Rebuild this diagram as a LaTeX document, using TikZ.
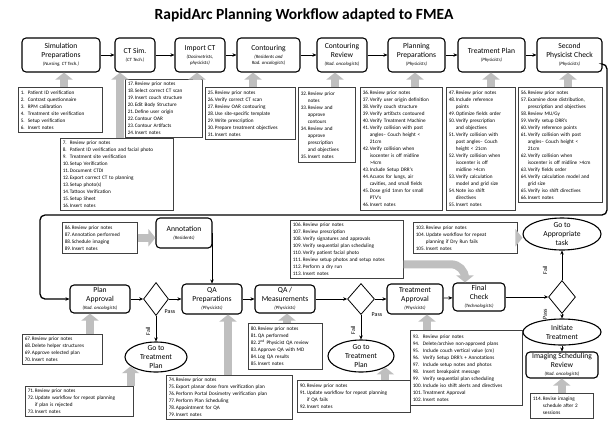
\documentclass[tikz,border=0pt]{standalone}
\usepackage{fontspec}
\setmainfont{Carlito}
\usetikzlibrary{shapes.geometric,arrows.meta}

\newcommand{\notesize}{\fontsize{5.2}{7}\selectfont}
\newcommand{\boxsize}{\fontsize{7.6}{9.2}\selectfont}
\newcommand{\who}[1]{{\fontsize{4.8}{5.6}\selectfont\itshape #1}}
\newcommand{\ent}[3][1.35em]{\makebox[#1][l]{#2.}#3}
\newcommand{\cnt}[1][1.35em]{\hspace*{#1}}

\tikzset{
  proc/.style={draw, line width=1.1pt, rounded corners=4pt, align=center, font=\boxsize, inner sep=1pt},
  notes/.style={draw=black!75, line width=0.6pt, fill=white, align=left, font=\notesize, inner xsep=2.5pt, inner ysep=2pt, anchor=north west},
  oval/.style={draw, ellipse, line width=1.1pt, align=center, font=\boxsize, inner xsep=0pt, inner ysep=-6pt},
  choice/.style={draw, diamond, line width=0.8pt, inner sep=0pt},
  flow/.style={-{Stealth[length=4pt,width=3.5pt]}, line width=0.7pt},
  fat/.style={-{Triangle[length=7pt,width=17pt]}, line width=8pt, draw=black!25},
  tag/.style={font=\fontsize{6}{7}\selectfont}
}

\begin{document}
\begin{tikzpicture}[x=1pt,y=-1pt]
  \fill[white] (0,0) rectangle (612,421);
  \useasboundingbox (0,0) rectangle (612,421);
  \node[font=\fontsize{15.5}{17}\selectfont\bfseries] (title) at (304,15) {RapidArc Planning Workflow adapted to FMEA};

  % top row
  \node[proc, minimum width=78pt, minimum height=34pt] (sim) at (61,55) {Simulation\\Preparations\\[-1pt]\who{(Nursing, CT Tech.)}};
  \node[proc, minimum width=40pt, minimum height=34pt] (ctsim) at (135,55) {CT Sim.\\[-1pt]\who{(CT Tech.)}};
  \node[proc, minimum width=50pt, minimum height=34pt] (importct) at (200,55) {Import CT\\[-1pt]\who{(Dosimetrists,}\\[-3.5pt]\who{physicists)}};
  \node[proc, minimum width=63pt, minimum height=34pt] (contour) at (268.5,55) {Contouring\\[-1pt]\who{(Residents and}\\[-3.5pt]\who{Rad. oncologists)}};
  \node[proc, minimum width=50pt, minimum height=34pt] (contrev) at (342,55) {Contouring\\Review\\[-1pt]\who{(Rad. oncologists)}};
  \node[proc, minimum width=57pt, minimum height=34pt] (planprep) at (416.5,55) {Planning\\Preparations\\[-1pt]\who{(Physicists)}};
  \node[proc, minimum width=67pt, minimum height=34pt] (txplan) at (491.5,55) {Treatment Plan\\[-1pt]\who{(Physicists)}};
  \node[proc, minimum width=65pt, minimum height=34pt] (check2) at (569.5,55) {Second\\Physicist Check\\[-1pt]\who{(Physicists)}};
  \draw[flow] (sim) -- (ctsim);
  \draw[flow] (ctsim) -- (importct);
  \draw[flow] (importct) -- (contour);
  \draw[flow] (contour) -- (contrev);
  \draw[flow] (contrev) -- (planprep);
  \draw[flow] (planprep) -- (txplan);
  \draw[flow] (txplan) -- (check2);

  % notes of the top row
  \node[notes, text width=79pt, minimum height=45pt] (notesA) at (18,87) {\ent{1}{Patient ID verification}\\\ent{2}{Contrast questionnaire}\\\ent{3}{RPM calibration}\\\ent{4}{Treatment site verification}\\\ent{5}{Setup verification}\\\ent{6}{Insert notes}};
  \node[notes, text width=108pt, minimum height=72pt] (notesB) at (60,138) {\ent{7}{Review prior notes}\\\ent{8}{Patient ID verification and facial photo}\\\ent{9}{Treatment site verification}\\\ent{10}{Setup Verification}\\\ent{11}{Document CTDI}\\\ent{12}{Export correct CT to planning}\\\ent{13}{Setup photo(s)}\\\ent{14}{Tattoos Verification}\\\ent{15}{Setup Sheet}\\\ent{16}{Insert notes}};
  \node[notes, text width=72pt, minimum height=58pt] (notesC) at (125,79) {\ent{17}{Review prior notes}\\\ent{18}{Select correct CT scan}\\\ent{19}{Insert couch structure}\\\ent{20}{Edit Body Structure}\\\ent{21}{Define user origin}\\\ent{22}{Contour OAR}\\\ent{23}{Contour Artifacts}\\\ent{24}{Insert notes}};
  \node[notes, text width=85pt, minimum height=52pt] (notesD) at (205,87) {\ent{25}{Review prior notes}\\\ent{26}{Verify correct CT scan}\\\ent{27}{Review OAR contouring}\\\ent{28}{Use site-specific template}\\\ent{29}{Write prescription}\\\ent{30}{Prepare treatment objectives}\\\ent{31}{Insert notes}};
  \node[notes, text width=52pt, minimum height=75pt] (notesE) at (298,87) {\ent{32}{Review prior}\\\cnt notes\\\ent{33}{Review and}\\\cnt approve\\\cnt contours\\\ent{34}{Review and}\\\cnt approve\\\cnt prescription\\\cnt and objectives\\\ent{35}{Insert notes}};
  \node[notes, text width=77pt, minimum height=123pt] (notesF) at (360,87) {\ent{36}{Review prior notes}\\\ent{37}{Verify user origin definition}\\\ent{38}{Verify couch structure}\\\ent{39}{Verify artifacts contoured}\\\ent{40}{Verify Treatment Machine}\\\ent{41}{Verify collision with post}\\\cnt angles-- Couch height <\\\cnt 21cm\\\ent{42}{Verify collision when}\\\cnt isocenter is off midline\\\cnt >4cm\\\ent{43}{Include Setup DRR's}\\\ent{44}{Acuros for lungs, air}\\\cnt cavities, and small fields\\\ent{45}{Dose grid 1mm for small}\\\cnt PTV's\\\ent{46}{Insert notes}};
  \node[notes, text width=64pt, minimum height=123pt] (notesG) at (446,87) {\ent{47}{Review prior notes}\\\ent{48}{Include reference}\\\cnt points\\\ent{49}{Optimize fields order}\\\ent{50}{Verify prescription}\\\cnt and objectives\\\ent{51}{Verify collision with}\\\cnt post angles-- Couch\\\cnt height < 21cm\\\ent{52}{Verify collision when}\\\cnt isocenter is off\\\cnt midline >4cm\\\ent{53}{Verify calculation}\\\cnt model and grid size\\\ent{54}{Note iso shift}\\\cnt directives\\\ent{55}{Insert notes}};
  \node[notes, text width=79pt, minimum height=115pt] (notesH) at (518,87) {\ent{56}{Review prior notes}\\\ent{57}{Examine dose distribution,}\\\cnt prescription and objectives\\\ent{58}{Review MU/Gy}\\\ent{59}{Verify setup DRR's}\\\ent{60}{Verify reference points}\\\ent{61}{Verify collision with post}\\\cnt angles-- Couch height <\\\cnt 21cm\\\ent{62}{Verify collision when}\\\cnt isocenter is off midline >4cm\\\ent{63}{Verify fields order}\\\ent{64}{Verify calculation model and}\\\cnt grid size\\\ent{65}{Verify iso shift directives}\\\ent{66}{Insert notes}};
  \draw[fat] (notesA.north -| 64,0) -- (sim.south -| 64,0);
  \draw[fat] (notesB.north -| 120,0) -- (ctsim.south -| 120,0);
  \draw[fat] (notesC.north -| 197,0) -- (importct.south -| 197,0);
  \draw[fat] (notesD.north -| 253,0) -- (contour.south -| 253,0);
  \draw[fat] (notesE.north -| 335,0) -- (contrev.south -| 335,0);
  \draw[fat] (notesF.north -| 415,0) -- (planprep.south -| 415,0);
  \draw[fat] (notesG.north -| 491,0) -- (txplan.south -| 491,0);
  \draw[fat] (notesH.north -| 568,0) -- (check2.south -| 568,0);

  % middle row
  \node[notes, text width=70pt, minimum height=31pt] (notesI) at (62,222) {\ent{86}{Review prior notes}\\\ent{87}{Annotation performed}\\\ent{88}{Schedule imaging}\\\ent{89}{Insert notes}};
  \node[proc, minimum width=56pt, minimum height=30pt] (annot) at (184,233) {Annotation\\[-1pt]\who{(Residents)}};
  \node[notes, text width=108pt, minimum height=58pt] (notesJ) at (290,220) {\ent[1.95em]{106}{Review prior notes}\\\ent[1.95em]{107}{Review prescription}\\\ent[1.95em]{108}{Verify signatures and approvals}\\\ent[1.95em]{109}{Verify sequential plan scheduling}\\\ent[1.95em]{110}{Verify patient facial photo}\\\ent[1.95em]{111}{Review setup photos and setup notes}\\\ent[1.95em]{112}{Perform a dry run}\\\ent[1.95em]{113}{Insert notes}};
  \node[notes, text width=99pt, minimum height=31pt] (notesK) at (413,222) {\ent[1.95em]{103}{Review prior notes}\\\ent[1.95em]{104}{Update workflow for repeat}\\\cnt[1.95em]planning if Dry Run fails\\\ent[1.95em]{105}{Insert notes}};
  \node[oval, minimum width=78pt, minimum height=32pt] (gotask) at (562,234) {Go to\\Appropriate\\task};
  \draw[fat] (notesI.east) -- (notesI.east -| annot.west);
  \draw[fat] (notesK.east) -- (notesK.east -| gotask.west);

  % bottom row
  \node[proc, minimum width=60pt, minimum height=28pt] (planapp) at (100,299) {Plan\\Approval\\[-1pt]\who{(Rad. oncologists)}};
  \node[choice, minimum width=25pt, minimum height=33pt] (d1) at (156,299) {};
  \node[proc, minimum width=60pt, minimum height=30pt] (qaprep) at (212,299) {QA\\Preparations\\[-1pt]\who{(Physicists)}};
  \node[proc, minimum width=60pt, minimum height=28pt] (qameas) at (285,299) {QA /\\Measurements\\[-1pt]\who{(Physicists)}};
  \node[choice, minimum width=27pt, minimum height=31pt] (d2) at (361,299) {};
  \node[proc, minimum width=56pt, minimum height=30pt] (txapp) at (415,299) {Treatment\\Approval\\[-1pt]\who{(Physicists)}};
  \node[proc, minimum width=52pt, minimum height=28pt] (final) at (479,297) {Final\\Check\\[-1pt]\who{(Technologists)}};
  \node[choice, minimum width=27pt, minimum height=33pt] (d3) at (562,297) {};
  \node[oval, minimum width=62pt, minimum height=30pt] (tpA) at (156,357) {Go to\\Treatment\\Plan};
  \node[oval, minimum width=66pt, minimum height=32pt] (tpB) at (361,356) {Go to\\Treatment\\Plan};
  \node[oval, minimum width=78pt, minimum height=26pt] (inittx) at (562,332) {Initiate\\Treatment};
  \node[proc, minimum width=72pt, minimum height=26pt] (imgrev) at (562,365) {Imaging Scheduling\\Review\\[-1pt]\who{(Rad. oncologists)}};

  % flow to plan approval
  \draw[flow, line width=1.3pt, rounded corners=5pt] ([yshift=-9pt]check2.east) -| (607,215) -| (40,299) -- (planapp.west);

  \draw[flow] (annot.east) -| (qaprep.north);
  \draw[flow] (planapp) -- (d1);
  \draw[flow] (d1) -- (qaprep);
  \draw[flow] (qaprep) -- (qameas);
  \draw[flow] (qameas) -- (d2);
  \draw[flow] (d2) -- (txapp);
  \draw[flow] (txapp) -- (final);
  \draw[flow] (final) -- (d3);
  \draw[flow] (d1) -- (tpA);
  \draw[flow] (d2) -- (tpB);
  \draw[flow] (d3) -- (gotask);
  \draw[flow] (d3) -- (inittx);
  \draw[flow] (inittx) -- (imgrev);
  \node[tag] (pass1) at (170,312) {Pass};
  \node[tag, rotate=90] (fail1) at (148,331) {Fail};
  \node[tag] (pass2) at (377,315) {Pass};
  \node[tag, rotate=90] (fail2) at (353,330) {Fail};
  \node[tag, rotate=90] (fail3) at (545,270) {Fail};
  \node[tag, rotate=90] (pass3) at (545,314) {Pass};
  \draw[fat, rounded corners=14pt] ([yshift=-15pt]notesJ.east) -| ([xshift=-14pt]final.north);

  % notes of the bottom row
  \node[notes, text width=75pt, minimum height=30pt] (notesL) at (22,334) {\ent{67}{Review prior notes}\\\ent{68}{Delete helper structures}\\\ent{69}{Approve selected plan}\\\ent{70}{Insert notes}};
  \node[notes, text width=103pt, minimum height=30pt] (notesM) at (25,386) {\ent{71}{Review prior notes}\\\ent{72}{Update workflow for repeat planning}\\\cnt if plan is rejected\\\ent{73}{Insert notes}};
  \node[notes, text width=121pt, minimum height=44pt] (notesN) at (166,375) {\ent{74}{Review prior notes}\\\ent{75}{Export planar dose from verification plan}\\\ent{76}{Perform Portal Dosimetry verification plan}\\\ent{77}{Perform Plan Scheduling}\\\ent{78}{Appointment for QA}\\\ent{79}{Insert notes}};
  \node[notes, text width=69pt, minimum height=46pt] (notesO) at (248,323) {\ent{80}{Review prior notes}\\\ent{81}{QA performed}\\\ent{82}{2\textsuperscript{nd} Physicist QA review}\\\ent{83}{Approve QA with MD}\\\ent{84}{Log QA results}\\\ent{85}{Insert notes}};
  \node[notes, text width=108pt, minimum height=32pt] (notesP) at (297,380) {\ent{90}{Review prior notes}\\\ent{91}{Update workflow for repeat planning}\\\cnt if QA fails\\\ent{92}{Insert notes}};
  \node[notes, text width=107pt, minimum height=75pt] (notesQ) at (410,330) {\ent[1.95em]{93}{Review prior notes}\\\ent[1.95em]{94}{Delete/archive non-approved plans}\\\ent[1.95em]{95}{Include couch vertical value (cm)}\\\ent[1.95em]{96}{Verify Setup DRR's + Annotations}\\\ent[1.95em]{97}{Include setup notes and photos}\\\ent[1.95em]{98}{Insert breakpoint message}\\\ent[1.95em]{99}{Verify sequential plan scheduling}\\\ent[1.95em]{100}{Include iso shift alerts and directives}\\\ent[1.95em]{101}{Treatment Approval}\\\ent[1.95em]{102}{Insert notes}};
  \node[notes, text width=58pt, minimum height=25pt] (notesR) at (530,393) {\ent[1.95em]{114}{Revise imaging}\\\cnt[1.95em]schedule after 2\\\cnt[1.95em]sessions};
  \draw[fat] (notesL.north -| 90,0) -- (planapp.south -| 90,0);
  \draw[fat] (notesM.north -| tpA.200) -- (tpA.200);
  \draw[fat] (notesN.north -| 228,0) -- (qaprep.south -| 228,0);
  \draw[fat] (notesO.north -| 287,0) -- (qameas.south -| 287,0);
  \draw[fat] (notesP.north -| tpB.-25) -- (tpB.-25);
  \draw[fat] (notesQ.north -| 427,0) -- (txapp.south -| 427,0);
  \draw[fat] (notesR.north) -- (notesR.north |- imgrev.south);
\end{tikzpicture}
\end{document}
